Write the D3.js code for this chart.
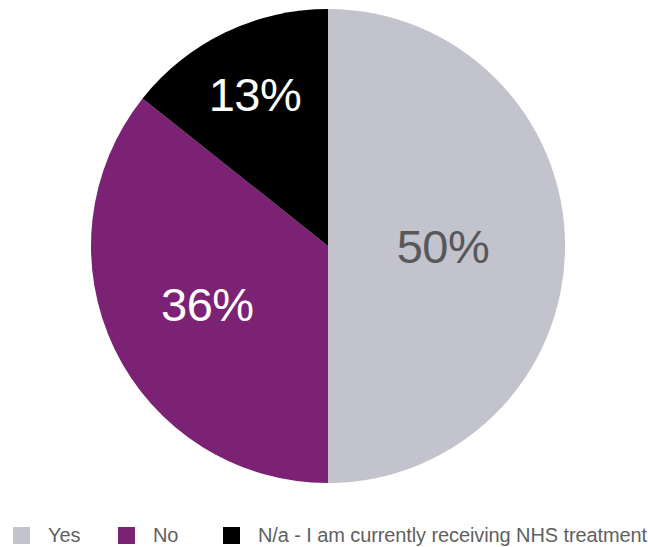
<!DOCTYPE html>
<html><head><meta charset="utf-8">
<script src="https://cdn.jsdelivr.net/npm/d3@7"></script>
<style>body{margin:0;background:#fff}</style>
</head><body>
<svg id="c" width="648" height="547"></svg>
<script>
const categories = ["Yes", "No", "N/a - I am currently receiving NHS treatment"];
const values = [50, 35.7, 14.3];
const labels = ["50%", "36%", "13%"];
const colors = ["#c3c3cd", "#7b2275", "#000000"];
const labelColors = ["#58585a", "#ffffff", "#ffffff"];

const svg = d3.select("#c");
const cx = 328, cy = 246, r = 237;
const g = svg.append("g").attr("transform", `translate(${cx},${cy})`);
const pie = d3.pie().sort(null).value(d => d)(values);
const arc = d3.arc().innerRadius(0).outerRadius(r);
g.selectAll("path").data(pie).enter().append("path")
  .attr("d", arc).attr("fill", (d, i) => colors[i]);

const labelRadius = [0.485, 0.565, 0.71];
g.selectAll("text.lbl").data(pie).enter().append("text")
  .attr("class", "lbl")
  .each(function(d, i) {
    const lr = r * labelRadius[i];
    const c = d3.arc().innerRadius(lr).outerRadius(lr).centroid(d);
    d3.select(this).attr("x", c[0]).attr("y", c[1]);
  })
  .attr("text-anchor", "middle").attr("dominant-baseline", "central")
  .attr("font-family", "Liberation Sans, Arial, sans-serif")
  .attr("font-size", 47).attr("letter-spacing", -0.5)
  .attr("fill", (d, i) => labelColors[i])
  .text((d, i) => labels[i]);

const legX = [13, 118, 223];
const lg = svg.append("g");
const texts = [];
categories.forEach((c, i) => {
  lg.append("rect").attr("x", legX[i]).attr("y", 527).attr("width", 17).attr("height", 17).attr("fill", colors[i]);
  texts.push(lg.append("text").attr("x", legX[i] + 35).attr("y", 542)
    .attr("font-family", "Liberation Sans, Arial, sans-serif").attr("font-size", 20)
    .attr("fill", "#5f5f61").text(c));
});
// fit letter spacing so the long label spans its reference width
const longT = texts[2];
const natural = longT.node().getComputedTextLength();
const n = categories[2].length;
const ls = (389 - natural) / n;
texts.forEach(t => t.attr("letter-spacing", ls));
</script>
</body></html>
